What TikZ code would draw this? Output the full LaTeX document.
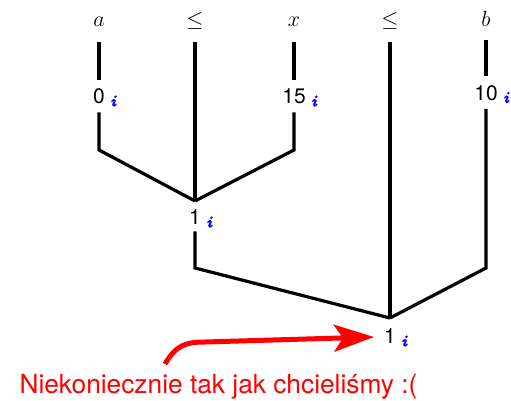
\RequirePackage{fix-cm}
\documentclass[tikz,border=0pt]{standalone}
\usepackage{fontspec}
\setsansfont{TeX Gyre Heros}
\newfontfamily\idxfont[FakeBold=1.6]{Latin Modern Roman}
\usetikzlibrary{arrows.meta}
\begin{document}
\begin{tikzpicture}[x=1pt,y=-1pt,
  top/.style={anchor=base,inner sep=0pt,font=\fontsize{22}{22}\selectfont},
  num/.style={inner xsep=1pt,inner ysep=8.5pt,text height=15.2pt,text depth=0pt,font=\sffamily\fontsize{21}{21}\selectfont},
  idx/.style={anchor=west,inner sep=0pt,text=blue,font=\idxfont\bfseries\itshape\fontsize{16}{16}\selectfont},
  wire/.style={line width=3.2pt,line join=miter},
  note/.style={anchor=base,inner sep=0pt,text=red,font=\sffamily\fontsize{26.3}{26.3}\selectfont}]
\path[use as bounding box] (0,0) rectangle (511,401);
% top labels
\node[top] (ta) at (99,27) {$a$};
\node[top] (tl1) at (195,27) {$\le$};
\node[top] (tx) at (294,27) {$x$};
\node[top] (tl2) at (390,27) {$\le$};
\node[top] (tb) at (486,27) {$b$};
\coordinate (sa) at (99,42);
\coordinate (sl1) at (195,42);
\coordinate (sx) at (294,42);
\coordinate (sl2) at (390,42);
\coordinate (sb) at (486,40);
% numbers
\node[num] (n0) at (99,96) {0};
\node[num] (n15) at (294,96) {15};
\node[num] (n10) at (486,92.5) {10};
\node[idx] (i0) at ([xshift=4pt,yshift=-5pt]n0.east) {i};
\node[idx] (i15) at ([xshift=4pt,yshift=-5pt]n15.east) {i};
\node[idx] (i10) at ([xshift=4pt,yshift=-5pt]n10.east) {i};
% corners and junctions
\coordinate (ca) at (99,150);
\coordinate (cx) at (294,150);
\coordinate (j1) at (195,201);
\node[num,inner ysep=6.5pt] (n1) at (195,217) {1};
\node[idx] (i1) at ([xshift=4pt,yshift=-5pt]n1.east) {i};
\coordinate (c1) at (195,268);
\coordinate (cb) at (486,268);
\coordinate (j2) at (390,318);
\node[num,inner ysep=5pt] (n2) at (390,336) {1};
\node[idx] (i2) at ([xshift=4pt,yshift=-5pt]n2.east) {i};
% wires
\draw[wire] (sa) -- (n0);
\draw[wire] (n0) -- (ca) -- (j1);
\draw[wire] (sx) -- (n15);
\draw[wire] (n15) -- (cx) -- (j1);
\draw[wire] (sl1) -- (j1);
\draw[wire] (n1) -- (c1) -- (j2);
\draw[wire] (sb) -- (n10);
\draw[wire] (n10) -- (cb) -- (j2);
\draw[wire] (sl2) -- (j2);
% note
\node[note] (txt) at (218.5,393) {Niekoniecznie tak jak chcieliśmy :(};
\coordinate (as) at (165,364);
\coordinate (ab) at (205,342);
\coordinate (at) at (374,337);
\draw[red,line width=5pt,-{Stealth[length=40pt,width=27pt,inset=9pt]}]
  (as) .. controls (176,345) and (186,342) .. (ab) -- (at);
\end{tikzpicture}
\end{document}
